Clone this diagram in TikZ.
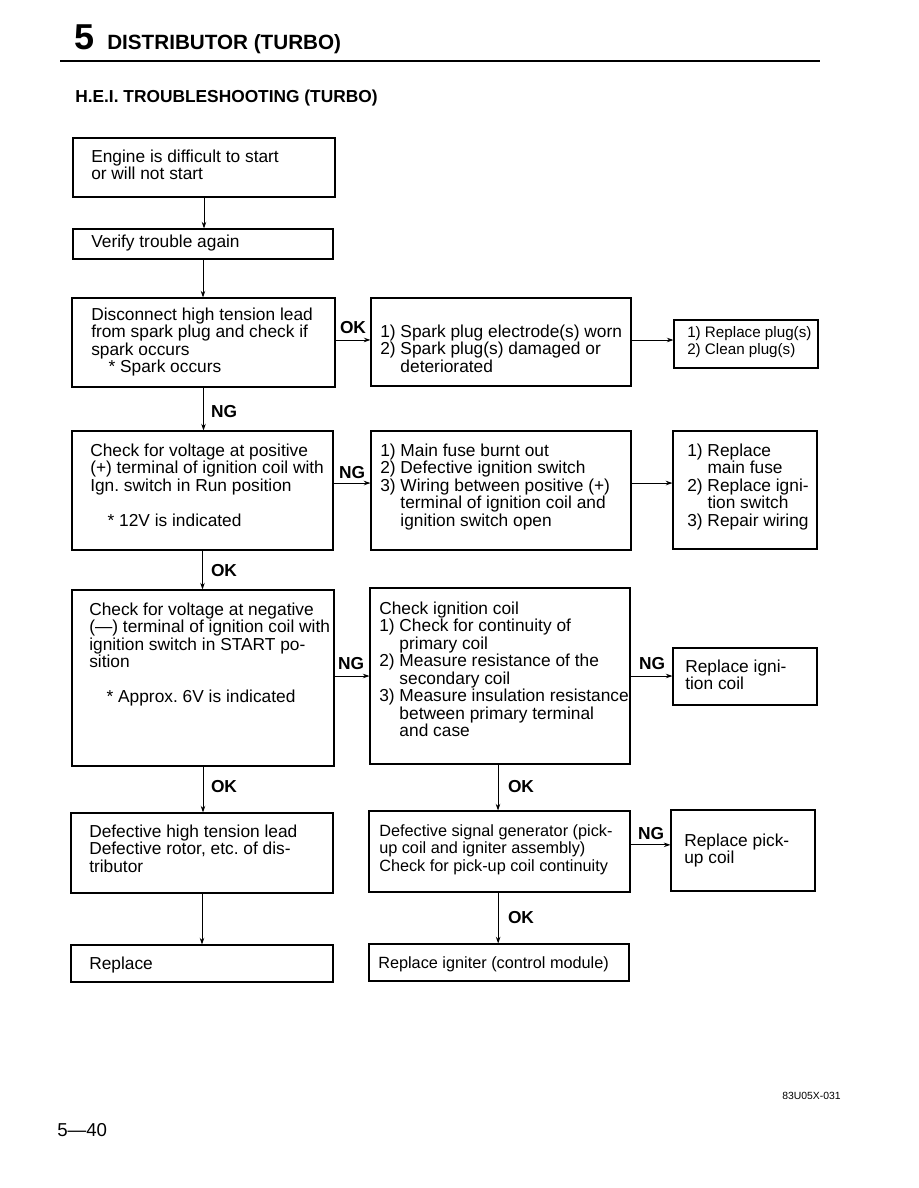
\documentclass[tikz,border=0pt]{standalone}
\usepackage{fontspec}
\setmainfont{Liberation Sans}
\usetikzlibrary{arrows.meta,fit}
\newcommand\tsr{\rule{0pt}{10pt}}
\frenchspacing
\begin{document}
\frenchspacing
\begin{tikzpicture}[x=0.75pt,y=-0.75pt,
  box/.style={draw, line width=0.8pt, inner sep=0pt},
  txt/.style={anchor=north west, inner sep=0pt, align=left, yshift=6.25pt,
    font=\fontsize{13}{13.1}\selectfont},
  smalltxt/.style={txt, font=\fontsize{12.2}{13.1}\selectfont},
  tinytxt/.style={txt, font=\fontsize{11.4}{13.1}\selectfont},
  lbl/.style={inner sep=0pt, font=\bfseries\fontsize{13}{13}\selectfont},
  arr/.style={line width=0.7pt, -{Stealth[length=5pt,width=3.4pt]}}]
\useasboundingbox (0,0) rectangle (918,1188);

% header
\node[anchor=base west, inner sep=0pt, font=\bfseries\fontsize{27}{27}\selectfont] (num) at (74,50) {5};
\node[anchor=base west, inner sep=0pt, font=\bfseries\fontsize{15.5}{15.5}\selectfont] (ttl) at (107,50) {DISTRIBUTOR (TURBO)};
\coordinate (r1) at (60,61);
\coordinate (r2) at (820,61);
\draw[line width=1.5pt] (r1) -- (r2);
\node[anchor=base west, inner sep=0pt, font=\bfseries\fontsize{13}{13}\selectfont] (hd) at (75,103) {H.E.I. TROUBLESHOOTING (TURBO)};

% boxes
\node[box, fit={(73,138) (335,197)}] (A) {};
\node[box, fit={(73,229) (333,259)}] (B) {};
\node[box, fit={(72,298) (335,387)}] (C) {};
\node[box, fit={(371,298) (631,386)}] (D) {};
\node[box, fit={(674,320) (818,368)}] (E) {};
\node[box, fit={(72,431) (333,550)}] (F) {};
\node[box, fit={(371,431) (631,550)}] (G) {};
\node[box, fit={(673,431) (817,549)}] (H) {};
\node[box, fit={(72,590) (334,766)}] (I) {};
\node[box, fit={(370,588) (630,764)}] (J) {};
\node[box, fit={(673,648) (817,705)}] (K) {};
\node[box, fit={(71,813) (333,893)}] (L) {};
\node[box, fit={(369,811) (630,892)}] (M) {};
\node[box, fit={(671,810) (815,891)}] (N) {};
\node[box, fit={(71,945) (333,982)}] (O) {};
\node[box, fit={(369,944) (629,981)}] (P) {};

% texts
\node[txt] (At) at (91,157) {\tsr Engine is difficult to start\\or will not start};
\node[txt] (Bt) at (91,242) {\tsr Verify trouble again};
\node[txt] (Ct) at (91,315) {\tsr Disconnect high tension lead\\from spark plug and check if\\spark occurs\\\hspace*{13pt}* Spark occurs};
\node[txt] (Dt) at (380,332) {\tsr 1) Spark plug electrode(s) worn\\2) Spark plug(s) damaged or\\\hphantom{2) }deteriorated};
\node[tinytxt] (Et) at (687,332) {\tsr 1) Replace plug(s)\\2) Clean plug(s)};
\node[txt] (Ft) at (90,451) {\tsr Check for voltage at positive\\(+) terminal of ignition coil with\\Ign. switch in Run position\\[13.1pt]\hspace*{13pt}* 12V is indicated};
\node[txt] (Gt) at (380,451) {\tsr 1) Main fuse burnt out\\2) Defective ignition switch\\3) Wiring between positive (+)\\\hphantom{3) }terminal of ignition coil and\\\hphantom{3) }ignition switch open};
\node[txt] (Ht) at (687,451) {\tsr 1) Replace\\\hphantom{1) }main fuse\\2) Replace igni-\\\hphantom{2) }tion switch\\3) Repair wiring};
\node[txt] (It) at (89,610) {\tsr Check for voltage at negative\\(—) terminal of ignition coil with\\ignition switch in START po-\\sition\\[13.1pt]\hspace*{13pt}* Approx. 6V is indicated};
\node[txt] (Jt) at (379,609) {\tsr Check ignition coil\\1) Check for continuity of\\\hphantom{1) }primary coil\\2) Measure resistance of the\\\hphantom{2) }secondary coil\\3) Measure insulation resistance\\\hphantom{3) }between primary terminal\\\hphantom{3) }and case};
\node[txt] (Kt) at (685,667) {\tsr Replace igni-\\tion coil};
\node[txt] (Lt) at (89,832) {\tsr Defective high tension lead\\Defective rotor, etc. of dis-\\tributor};
\node[smalltxt] (Mt) at (379,831) {\tsr Defective signal generator (pick-\\up coil and igniter assembly)\\Check for pick-up coil continuity};
\node[txt] (Nt) at (684,841) {\tsr Replace pick-\\up coil};
\node[txt] (Ot) at (89,964) {\tsr Replace};
\node[smalltxt] (Pt) at (378,963) {\tsr Replace igniter (control module)};

% connectors
\draw[arr] (A.south) -- (A.south |- B.north);
\draw[arr] (B.south) -- (B.south |- C.north);
\draw[arr] ([yshift=1.9pt]C.east) -- ([yshift=1.9pt]C.east -| D.west);
\draw[arr] ([yshift=1.5pt]D.east) -- ([yshift=1.5pt]D.east -| E.west);
\draw[arr] (C.south) -- (C.south |- F.north);
\draw[arr] ([yshift=5.6pt]F.east) -- ([yshift=5.6pt]F.east -| G.west);
\draw[arr] ([yshift=5.6pt]G.east) -- ([yshift=5.6pt]G.east -| H.west);
\draw[arr] (F.south) -- (F.south |- I.north);
\draw[arr] ([yshift=1.5pt]I.east) -- ([yshift=1.5pt]I.east -| J.west);
\draw[arr] (J.east) -- (J.east -| K.west);
\draw[arr] (I.south) -- (I.south |- L.north);
\draw[arr] ([xshift=-1.5pt]J.south) -- ([xshift=-1.5pt]J.south |- M.north);
\draw[arr] ([yshift=5pt]M.east) -- ([yshift=5pt]M.east -| N.west);
\draw[arr] (L.south) -- (L.south |- O.north);
\draw[arr] ([xshift=-1pt]M.south) -- ([xshift=-1pt]M.south |- P.north);

% labels
\node[lbl] (ok1) at (353,328) {OK};
\node[lbl] (ng1) at (224,412) {NG};
\node[lbl] (ng2) at (352,473) {NG};
\node[lbl] (ok2) at (224,571) {OK};
\node[lbl] (ng3) at (351,664) {NG};
\node[lbl] (ng4) at (652,664) {NG};
\node[lbl] (ok3) at (224,787) {OK};
\node[lbl] (ok4) at (521,787) {OK};
\node[lbl] (ng5) at (651,834) {NG};
\node[lbl] (ok5) at (521,918) {OK};

% footer
\node[anchor=base east, inner sep=0pt, font=\fontsize{7.8}{8}\selectfont] (code) at (841,1099) {83U05X-031};
\node[anchor=base west, inner sep=0pt, font=\fontsize{14}{14}\selectfont] (pg) at (57,1136) {5—40};
\end{tikzpicture}
\end{document}
